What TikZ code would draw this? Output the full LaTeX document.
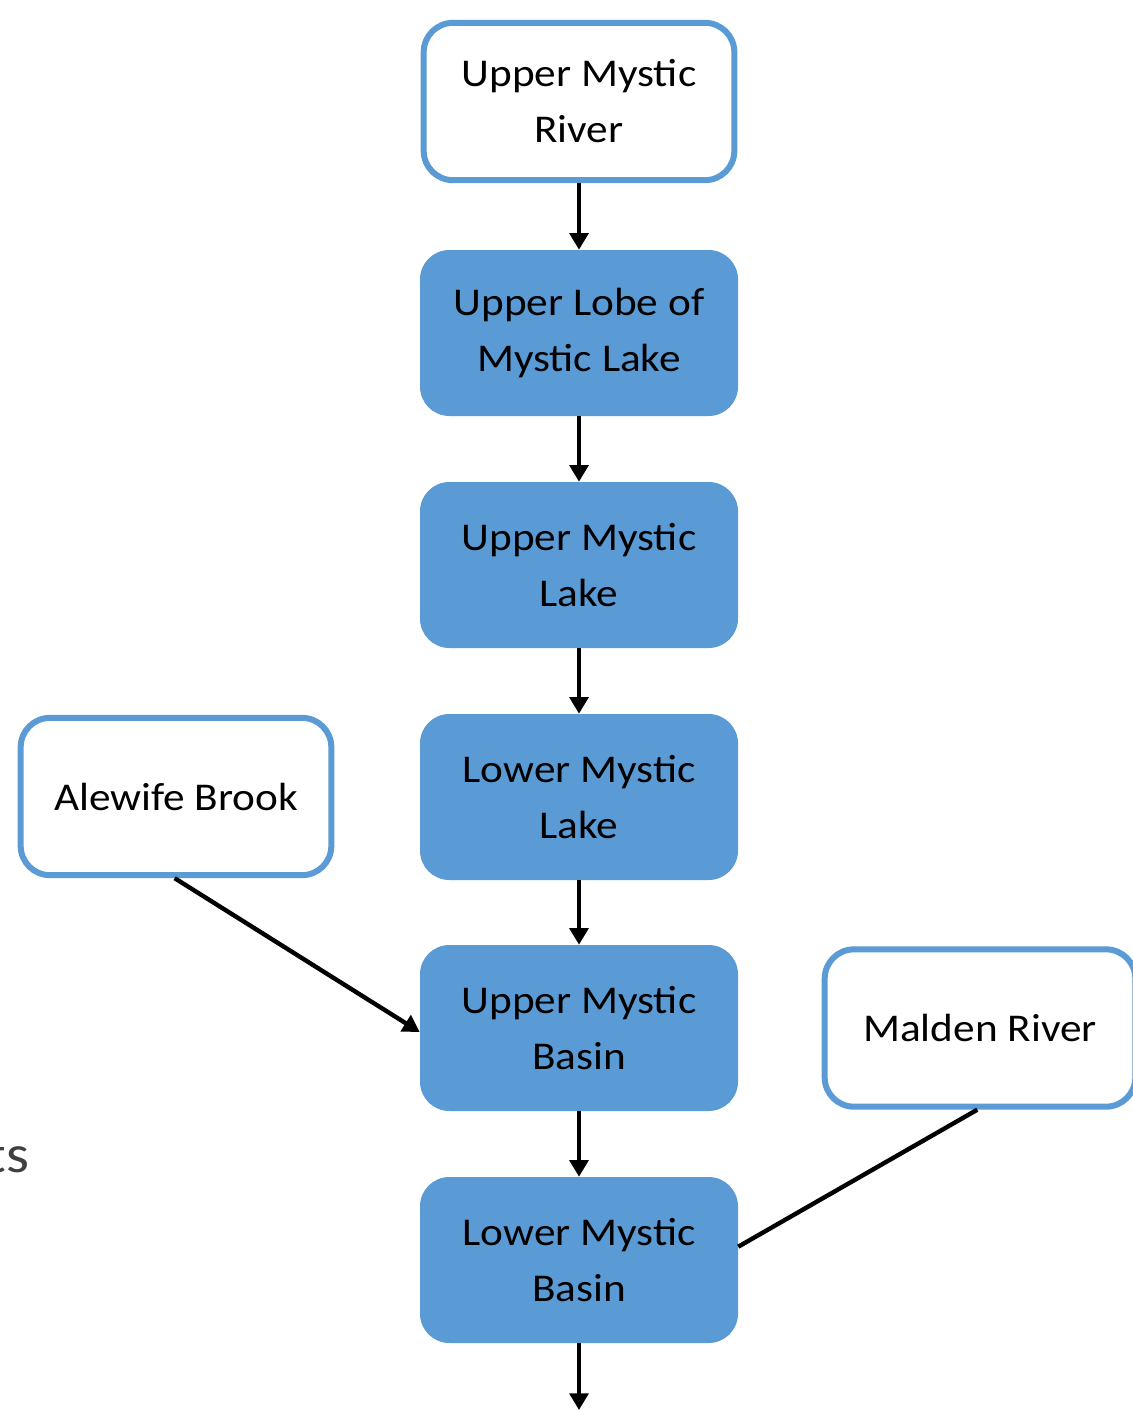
\documentclass[tikz,border=0pt]{standalone}
\usepackage{fontspec}
\setmainfont[FakeStretch=1.1]{Carlito}
\usetikzlibrary{arrows.meta}
\definecolor{obl}{HTML}{5B9BD5}
\definecolor{gtext}{HTML}{404040}
\begin{document}
\begin{tikzpicture}[x=0.75pt,y=-0.75pt,
  boxtext/.style={font=\fontsize{29.5}{42}\selectfont, align=center, text=black},
  srcbox/.style={boxtext, draw=obl, line width=4.5pt, fill=white, rounded corners=22pt,
    minimum width=233pt, minimum height=118pt, inner sep=0pt},
  lakebox/.style={boxtext, fill=obl, rounded corners=22pt,
    minimum width=238.5pt, minimum height=124.5pt, inner sep=0pt},
  flow/.style={line width=3.3pt, -{Triangle[width=14pt,length=12.5pt]}},
  plain/.style={line width=3.3pt}]
\useasboundingbox (0,0) rectangle (1132,1410);
\fill[white] (0,0) rectangle (1132,1410);
\node[srcbox] (umr) at (579,101.5) {Upper Mystic\\River};
\node[lakebox] (ul) at (579,333) {Upper Lobe of\\Mystic Lake};
\node[lakebox] (uml) at (579,565) {Upper Mystic\\Lake};
\node[lakebox] (lml) at (579,797) {Lower Mystic\\Lake};
\node[lakebox] (umb) at (579,1028) {Upper Mystic\\Basin};
\node[lakebox] (lmb) at (579,1260) {Lower Mystic\\Basin};
\node[srcbox] (ab) at (176,796.5) {Alewife Brook};
\node[srcbox] (mr) at (980,1028) {Malden River};
\node[anchor=base east, text=gtext, font=\fontsize{40}{48}\selectfont] (ts) at (34,1172) {ts};
\coordinate (out) at (579,1410);
\draw[flow] (umr) -- (ul);
\draw[flow] (ul) -- (uml);
\draw[flow] (uml) -- (lml);
\draw[flow] (lml) -- (umb);
\draw[flow] (umb) -- (lmb);
\draw[flow] (lmb) -- (out);
\draw[flow] ([xshift=-1pt]ab.south) -- ([yshift=-3pt]umb.west);
\draw[plain] ([xshift=-2pt]mr.south) -- ([yshift=10pt]lmb.east);
\end{tikzpicture}
\end{document}
